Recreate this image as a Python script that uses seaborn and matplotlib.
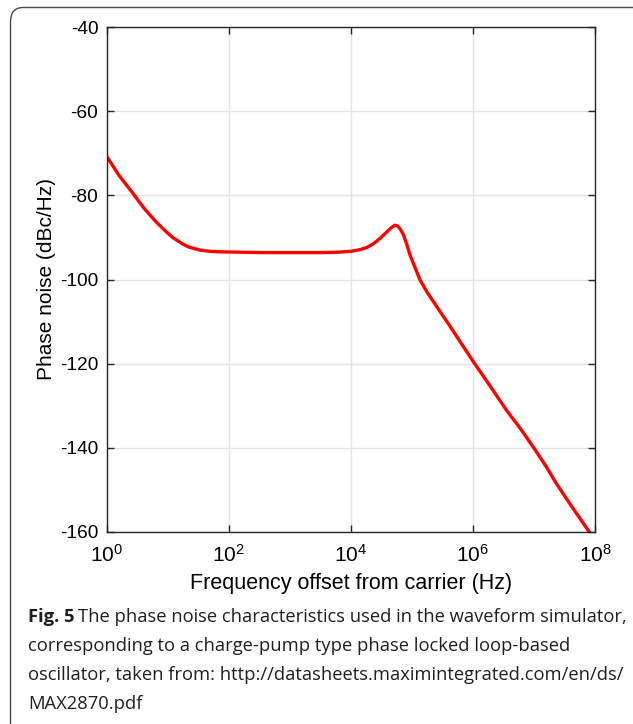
import numpy as np
import pandas as pd
import matplotlib
matplotlib.use("Agg")
import matplotlib.pyplot as plt
import seaborn as sns
from matplotlib.patches import FancyBboxPatch
from matplotlib.ticker import FixedLocator, FuncFormatter, NullLocator

# ---- data ----
log10_freq = [0.0, 0.20, 0.43, 0.62, 0.81, 0.98, 1.08, 1.25, 1.35, 1.53, 1.63, 1.80,
              2.17, 2.6, 3.0, 3.5, 3.8, 4.0, 4.15, 4.26, 4.37, 4.48, 4.58, 4.66, 4.72,
              4.76, 4.81, 4.86, 4.92, 4.97, 5.07, 5.13, 5.24, 5.35, 5.46, 5.62, 5.80,
              6.0, 6.28, 6.55, 6.78, 6.99, 7.2, 7.37, 7.6, 7.89, 8.0]
phase_noise_db = [-70.7, -75.2, -79.5, -83.2, -86.3, -88.7, -90.0, -91.6, -92.3, -93.0,
                  -93.2, -93.4, -93.5, -93.6, -93.6, -93.6, -93.5, -93.3, -92.9, -92.4,
                  -91.5, -90.2, -88.8, -87.7, -87.1, -87.2, -88.0, -89.3, -91.8, -94.2,
                  -97.8, -100.0, -102.8, -105.2, -107.6, -111.0, -115.0, -119.4, -125.3,
                  -131.1, -135.5, -139.9, -144.5, -148.6, -153.6, -159.7, -162.0]
x_tick_exponents = [0, 2, 4, 6, 8]
y_ticks = [-160, -140, -120, -100, -80, -60, -40]
x_label = "Frequency offset from carrier (Hz)"
y_label = "Phase noise (dBc/Hz)"
caption_bold = "Fig. 5"
caption_lines = [
    "The phase noise characteristics used in the waveform simulator,",
    "corresponding to a charge-pump type phase locked loop-based",
    "oscillator, taken from: http://datasheets.maximintegrated.com/en/ds/",
    "MAX2870.pdf",
]

df = pd.DataFrame({"freq": np.power(10.0, log10_freq), "pn": phase_noise_db})

sns.set_theme(style="white")
plt.rcParams["font.family"] = ["Liberation Sans", "DejaVu Sans"]
plt.rcParams["mathtext.fontset"] = "custom"
plt.rcParams["mathtext.rm"] = "Liberation Sans"

W, H = 633, 724
fig = plt.figure(figsize=(W / 100, H / 100), dpi=100)
fig.patch.set_facecolor("white")

ax = fig.add_axes([106.7 / W, 1 - 531.7 / H, (595 - 106.7) / W, (531.7 - 27.3) / H])

sns.lineplot(data=df, x="freq", y="pn", ax=ax, color="#ff0000", linewidth=2.4,
             sort=False, estimator=None)
ax.set_xscale("log")
ax.set_xlim(1, 1e8)
ax.set_ylim(-160, -40)

ax.xaxis.set_major_locator(FixedLocator([10.0 ** e for e in x_tick_exponents]))
ax.xaxis.set_minor_locator(NullLocator())
ax.xaxis.set_major_formatter(FuncFormatter(
    lambda v, p: r"$\mathregular{10^{%d}}$" % int(round(np.log10(v)))))
ax.yaxis.set_major_locator(FixedLocator(y_ticks))
ax.yaxis.set_major_formatter(FuncFormatter(lambda v, p: "%d" % v))

ax.grid(True, color="#e3e3e3", linewidth=1.0)
ax.set_axisbelow(True)
for s in ax.spines.values():
    s.set_visible(True)
    s.set_color("#262626")
    s.set_linewidth(1.0)
ax.tick_params(axis="both", which="major", direction="in", length=5, width=1.0,
               color="#262626", labelcolor="black",
               top=True, right=True, bottom=True, left=True)
ax.tick_params(axis="y", labelsize=13.8, pad=6)
ax.tick_params(axis="x", labelsize=15, pad=9)
ax.set_xlabel(x_label, fontsize=15.5, labelpad=5, color="black")
ax.set_ylabel(y_label, fontsize=15, labelpad=3, color="black")

# rounded border around the figure panel
border = FancyBboxPatch((10.5 / W, -0.05), 1.2, 1.05 - 7.5 / H,
                        boxstyle="round,pad=0,rounding_size=0.02",
                        transform=fig.transFigure, fill=False,
                        edgecolor="#4a4a4a", linewidth=1.0, clip_on=False)
fig.patches.append(border)

# caption
cap_font = ["Open Sans", "DejaVu Sans"]
cap_size = 13.2
x0 = 28 / W
ys = [617, 646, 675, 704]
fig.canvas.draw()
renderer = fig.canvas.get_renderer()
tb = fig.text(x0, 1 - ys[0] / H, caption_bold, fontsize=cap_size, fontweight="bold",
              family=cap_font, va="center", ha="left", color="#231f20")
bb = tb.get_window_extent(renderer=renderer)
fig.text((bb.x1 + 4) / W, 1 - ys[0] / H, caption_lines[0], fontsize=cap_size,
         family=cap_font, va="center", ha="left", color="#231f20")
for line, y in zip(caption_lines[1:], ys[1:]):
    fig.text(x0, 1 - y / H, line, fontsize=cap_size, family=cap_font,
             va="center", ha="left", color="#231f20")

fig.savefig("out.png", dpi=100)
